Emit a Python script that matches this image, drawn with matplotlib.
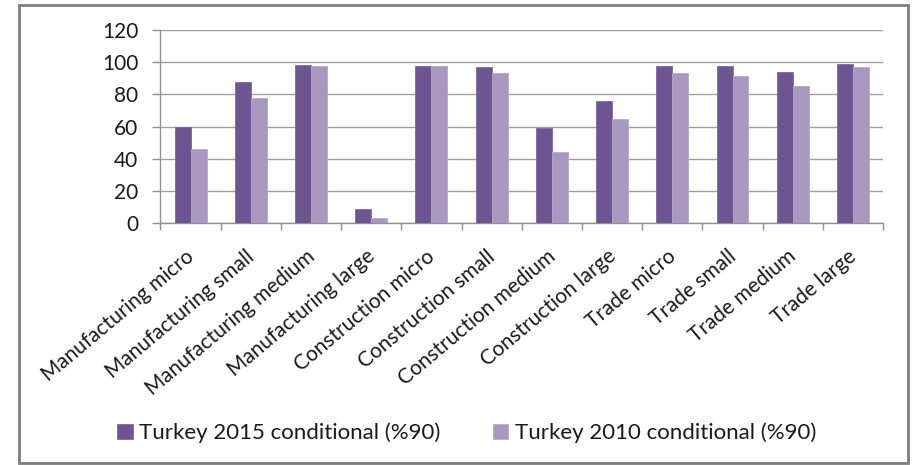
import numpy as np
import matplotlib.pyplot as plt
from matplotlib.patches import Rectangle
from matplotlib.transforms import ScaledTranslation

categories = ['Manufacturing micro', 'Manufacturing small', 'Manufacturing medium',
              'Manufacturing large', 'Construction micro', 'Construction small',
              'Construction medium', 'Construction large', 'Trade micro',
              'Trade small', 'Trade medium', 'Trade large']
turkey_2015 = [60, 88, 98, 9, 97.5, 97, 59, 76, 97.5, 97.5, 94, 99]
turkey_2010 = [46, 78, 97.5, 3.5, 97.5, 93, 44.5, 64.5, 93, 91.5, 85.5, 97]

plt.rcParams['font.family'] = ['Lato', 'DejaVu Sans']

dark = '#6c5590'
light = '#a897be'

fig = plt.figure(figsize=(9.17, 4.65), dpi=100)
ax = fig.add_axes([0.175, 0.5198, 0.788, 0.4157])

x = np.arange(len(categories))
w = 0.265
ax.bar(x - w / 2, turkey_2015, w, color=dark, edgecolor='#7d68a0', linewidth=0.6,
       label='Turkey 2015 conditional (%90)', zorder=3)
ax.bar(x + w / 2, turkey_2010, w, color=light, edgecolor='#b5a8c8', linewidth=0.6,
       label='Turkey 2010 conditional (%90)', zorder=3)

ax.set_xlim(-0.5, len(categories) - 0.5)
ax.set_ylim(0, 120)
ax.set_yticks(range(0, 121, 20))
ax.yaxis.grid(True, color='#a0a0a0', linewidth=1.0, zorder=0)
ax.tick_params(axis='y', length=6, width=1, color='#909090', labelsize=15,
               labelcolor='#1a1a1a', pad=10)

# boundary ticks below the axis, labels at category centres
ax.set_xticks(np.arange(-0.5, len(categories), 1))
ax.set_xticklabels([])
ax.tick_params(axis='x', which='major', length=5, width=1, color='#909090')
ax.set_xticks(x, minor=True)
ax.set_xticklabels(categories, minor=True, rotation=40, ha='right',
                   rotation_mode='anchor', va='center', fontsize=15, color='#1a1a1a')
ax.tick_params(axis='x', which='minor', length=0, pad=22)
for lab in ax.get_xticklabels(minor=True):
    lab.set_transform(lab.get_transform() + ScaledTranslation(0.01, 0, fig.dpi_scale_trans))

for side in ['top', 'right']:
    ax.spines[side].set_visible(False)
for side in ['left', 'bottom']:
    ax.spines[side].set_color('#909090')
    ax.spines[side].set_linewidth(1)

leg = fig.legend(loc='center', bbox_to_anchor=(0.509, 0.069), ncol=2, frameon=False,
                 fontsize=16, handlelength=0.7, handleheight=0.7,
                 handletextpad=0.3, columnspacing=2.35)
for t in leg.get_texts():
    t.set_color('#1a1a1a')

# outer chart border
fig.patches.append(Rectangle((19 / 917, 2 / 465), 889 / 917, 458 / 465,
                             transform=fig.transFigure, fill=False,
                             edgecolor='#7f7f7f', linewidth=2))

fig.savefig('out.png', dpi=100)
